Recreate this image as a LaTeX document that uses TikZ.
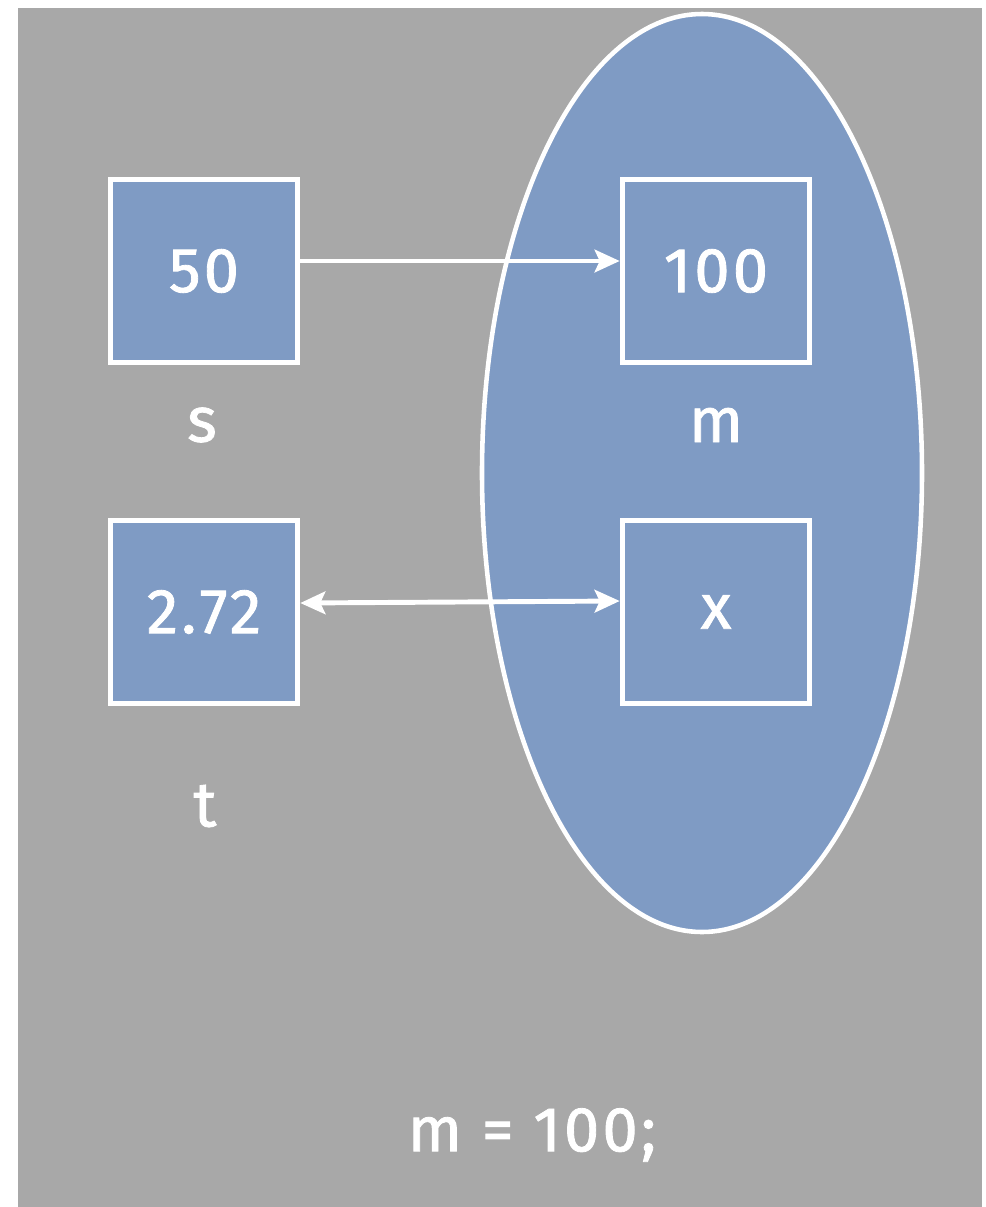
\documentclass[tikz,border=0pt]{standalone}
\usepackage{fontspec}
\setmainfont{Fira Sans}
\newfontfamily\chalk{Fira Sans}[LetterSpace=5,FakeBold=1.3]
\usetikzlibrary{arrows.meta}

\definecolor{slate}{HTML}{A8A8A8}
\definecolor{paleblue}{HTML}{7F9BC4}

\begin{document}
\begin{tikzpicture}[x=0.02cm,y=-0.02cm,
  cell/.style={draw=white, fill=paleblue, line width=2.9pt, minimum width=3.75cm, minimum height=3.65cm, text=white, font=\chalk\fontsize{36}{42}\selectfont},
  varlabel/.style={text=white, font=\chalk\fontsize{36}{42}\selectfont},
  link/.style={white, line width=2.8pt, -{Stealth[length=0.5cm,width=0.45cm,inset=0.1cm]}}]

\useasboundingbox (0,0) rectangle (985,1207);
\fill[white] (0,0) rectangle (985,1207);
\fill[slate] (18,8) rectangle (982,1207);

% the object
\filldraw[fill=paleblue, draw=white, line width=2.6pt] (702,473) ellipse (220 and 459);

\node[cell] (s) at (204,271) {50};
\node[cell] (t) at (204,612) {2.72};
\node[cell] (m) at (716,271) {100};
\node[cell] (x) at (716,612) {\raisebox{-4pt}{x}};

\node[varlabel] (sname) at (202,425) {s};
\node[varlabel] (mname) at (716,425) {m};
\node[varlabel] (tname) at (205,806) {t};

\draw[link] (s.east |- 0,261) -- (m.west |- 0,261);
\draw[link, {Stealth[length=0.5cm,width=0.45cm,inset=0.1cm]}-{Stealth[length=0.5cm,width=0.45cm,inset=0.1cm]}] (t.east |- 0,603) -- (x.west |- 0,601);

\node[varlabel] (code) at (532,1135) {m = 100;};

\end{tikzpicture}
\end{document}
